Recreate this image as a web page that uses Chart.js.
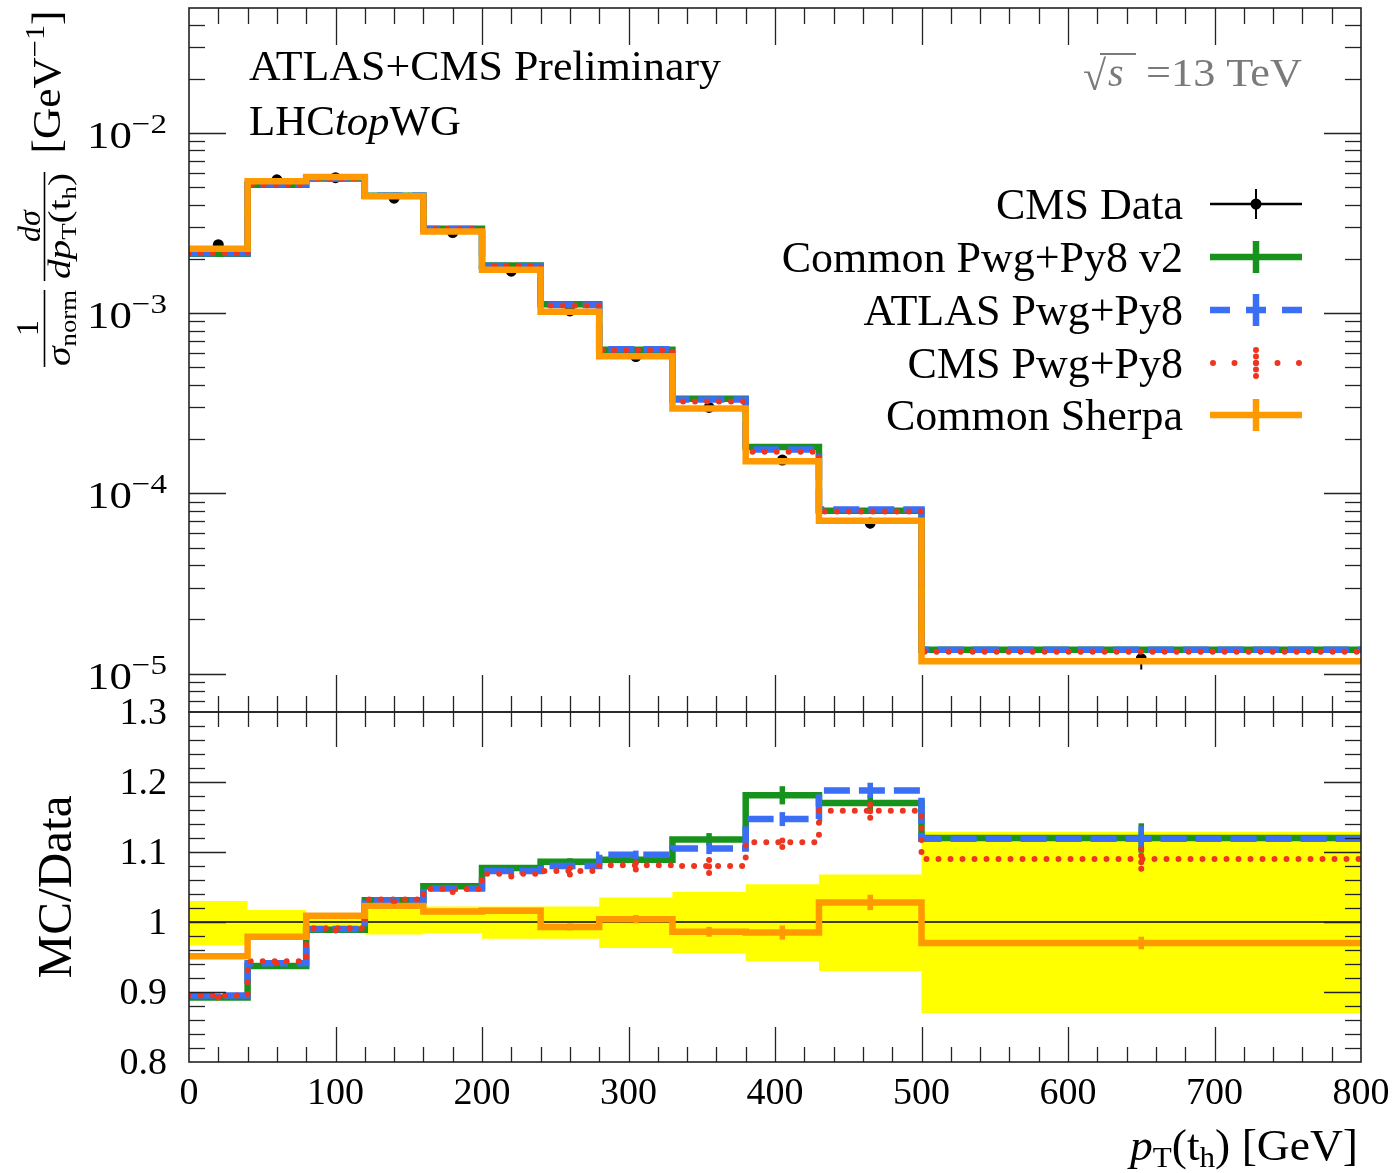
<!DOCTYPE html>
<html><head><meta charset="utf-8">
<script src="https://cdn.jsdelivr.net/npm/chart.js@4.4.1/dist/chart.umd.min.js"></script>
<style>
html,body{margin:0;padding:0;background:#fff;}
#wrap{position:relative;width:1395px;height:1173px;background:#fff;}
canvas{position:absolute;left:0;top:0;}
</style></head><body>
<div id="wrap"><canvas id="cTop" width="1395" height="1173"></canvas><canvas id="cRatio" width="1395" height="1173"></canvas></div>
<script>
// ---------------- data ----------------
const binEdges = [0,40,80,120,160,200,240,280,330,380,430,500,800];
const cmsData      = [2.40e-3,5.50e-3,5.65e-3,4.35e-3,2.80e-3,1.71e-3,1.03e-3,5.75e-4,3.00e-4,1.53e-4,6.85e-5,1.21e-5];
const pwgPy8V2     = [2.14e-3,5.16e-3,5.59e-3,4.49e-3,2.94e-3,1.84e-3,1.12e-3,6.26e-4,3.35e-4,1.81e-4,8.01e-5,1.355e-5];
const atlasPwgPy8  = [2.15e-3,5.18e-3,5.59e-3,4.49e-3,2.93e-3,1.83e-3,1.11e-3,6.30e-4,3.32e-4,1.75e-4,8.14e-5,1.354e-5];
const cmsPwgPy8    = [2.15e-3,5.19e-3,5.60e-3,4.49e-3,2.93e-3,1.83e-3,1.105e-3,6.22e-4,3.24e-4,1.70e-4,7.94e-5,1.32e-5];
const sherpa       = [2.28e-3,5.39e-3,5.70e-3,4.45e-3,2.84e-3,1.74e-3,1.02e-3,5.77e-4,2.96e-4,1.51e-4,7.04e-5,1.17e-5];

const ratioData        = [1,1,1,1,1,1,1,1,1,1,1,1];
const ratioPwgPy8V2    = [0.892,0.937,0.989,1.031,1.051,1.077,1.086,1.089,1.118,1.181,1.170,1.120];
const ratioAtlasPwgPy8 = [0.895,0.941,0.990,1.031,1.048,1.073,1.080,1.096,1.105,1.147,1.188,1.119];
const ratioCmsPwgPy8   = [0.895,0.944,0.991,1.032,1.047,1.069,1.073,1.081,1.080,1.114,1.159,1.090];
const ratioSherpa      = [0.951,0.979,1.009,1.023,1.015,1.016,0.993,1.004,0.986,0.985,1.028,0.970];
const dataBandUp       = [1.030,1.017,1.009,1.017,1.022,1.022,1.022,1.035,1.043,1.054,1.068,1.129];
const dataBandDown     = [0.967,0.983,0.990,0.982,0.984,0.976,0.976,0.963,0.955,0.944,0.930,0.870];
const errPwgPy8V2      = [0.003,0.003,0.003,0.003,0.004,0.004,0.005,0.006,0.009,0.013,0.011,0.021];
const errAtlasPwgPy8   = [0.003,0.003,0.003,0.003,0.004,0.004,0.005,0.006,0.008,0.010,0.011,0.018];
const errCmsPwgPy8     = [0.003,0.003,0.003,0.003,0.004,0.004,0.005,0.006,0.010,0.007,0.010,0.014];
const errSherpa        = [0.003,0.003,0.003,0.003,0.004,0.004,0.005,0.006,0.007,0.010,0.011,0.009];

const xTickValues  = [0,100,200,300,400,500,600,700,800];
const xTickLabels  = ['0','100','200','300','400','500','600','700','800'];
const topTickExps  = [-5,-4,-3,-2];
const ratioTickValues = [0.8,0.9,1.0,1.1,1.2,1.3];
const ratioTickLabels = ['0.8','0.9','1','1.1','1.2','1.3'];
const legendLabels = ['CMS Data','Common Pwg+Py8 v2','ATLAS Pwg+Py8','CMS Pwg+Py8','Common Sherpa'];

// ---------------- styles ----------------
const C_GREEN='#17921c', C_BLUE='#3a6ef5', C_RED='#ee3520', C_ORANGE='#ff9900', C_BAND='#ffff00';
const FONT='"Liberation Serif","DejaVu Serif",serif';
const X_MIN=0, X_MAX=800, Y_TOP_MIN=6.12e-6, Y_TOP_MAX=0.0494, R_MIN=0.8, R_MAX=1.3;

function stepPoints(vals){
  const pts = vals.map((v,i)=>({x:binEdges[i], y:v}));
  pts.push({x:binEdges[binEdges.length-1], y:vals[vals.length-1]});
  return pts;
}
function centerPoints(vals){ return vals.map((v,i)=>({x:(binEdges[i]+binEdges[i+1])/2, y:v})); }
function runFont(r){ return (r.italic?'italic ':'')+r.size+'px '+FONT; }
function measureRuns(ctx,runs){ let w=0; for(const r of runs){ctx.font=runFont(r); w+=ctx.measureText(r.t).width;} return w; }
function drawRuns(ctx,runs,x,y,align,targetW){
  const w=measureRuns(ctx,runs); const sx=targetW?targetW/w:1; const tw=w*sx;
  const x0 = align==='center'? x-tw/2 : align==='right'? x-tw : x;
  ctx.save(); ctx.translate(x0,y); ctx.scale(sx,1); ctx.textAlign='left'; ctx.textBaseline='alphabetic';
  let cx=0; for(const r of runs){ ctx.font=runFont(r); ctx.fillText(r.t,cx,r.dy||0); cx+=ctx.measureText(r.t).width; }
  ctx.restore();
}
function rotRuns(ctx,runs,bx,cy,targetW){
  ctx.save(); ctx.translate(bx,cy); ctx.rotate(-Math.PI/2); drawRuns(ctx,runs,0,0,'center',targetW); ctx.restore();
}
function seg(ctx,x1,y1,x2,y2){ ctx.beginPath(); ctx.moveTo(x1,y1); ctx.lineTo(x2,y2); ctx.stroke(); }

function drawXTicks(ctx,a,xs,major,minor){
  ctx.lineWidth=1.3;
  for(let v=X_MIN+20; v<X_MAX; v+=20){
    const L = (v%100===0)?major:minor;
    const px=Math.round(xs.getPixelForValue(v))+0.5;
    seg(ctx,px,a.top,px,a.top+L); seg(ctx,px,a.bottom,px,a.bottom-L);
  }
}
function drawYTick(ctx,a,py,L){
  py=Math.round(py)+0.5;
  seg(ctx,a.left,py,a.left+L,py); seg(ctx,a.right,py,a.right-L,py);
}
function drawFrame(ctx,a){
  ctx.lineWidth=1.6; ctx.strokeRect(a.left,a.top,a.right-a.left,a.bottom-a.top);
}

// ---------------- top panel ----------------
const topPlugin = {
  id:'topDecor',
  beforeDatasetsDraw(chart){
    const {ctx}=chart, xs=chart.scales.x, ys=chart.scales.y;
    ctx.save(); ctx.strokeStyle='#000'; ctx.lineWidth=2;
    cmsData.forEach((v,i)=>{
      const px=xs.getPixelForValue((binEdges[i]+binEdges[i+1])/2);
      seg(ctx,px,ys.getPixelForValue(v*dataBandDown[i]),px,ys.getPixelForValue(v*dataBandUp[i]));
    });
    ctx.restore();
  },
  afterDraw(chart){
    const {ctx,chartArea:a}=chart, xs=chart.scales.x, ys=chart.scales.y;
    ctx.save(); ctx.strokeStyle='#222'; ctx.fillStyle='#000';
    drawXTicks(ctx,a,xs,37,16);
    ctx.lineWidth=1.3;
    for(let e=-6;e<=-1;e++) for(let k=1;k<=9;k++){
      const v=k*Math.pow(10,e); if(v<Y_TOP_MIN||v>Y_TOP_MAX) continue;
      drawYTick(ctx,a,ys.getPixelForValue(v),k===1?37:16);
    }
    drawFrame(ctx,a);
    // tick labels
    topTickExps.forEach(e=>{
      const py=ys.getPixelForValue(Math.pow(10,e));
      drawRuns(ctx,[{t:'10',size:38},{t:'\u2212'+Math.abs(e),size:28,dy:-15}],167,py+15,'right',80);
    });
    // y title
    rotRuns(ctx,[{t:'1',size:32}],38,328);
    rotRuns(ctx,[{t:'\u03c3',size:34,italic:true},{t:'norm',size:23,dy:6}],70,328,76);
    rotRuns(ctx,[{t:'d',size:32,italic:true},{t:'\u03c3',size:32,italic:true}],40,226);
    rotRuns(ctx,[{t:'dp',size:32,italic:true},{t:'T',size:22,dy:6},{t:'(t',size:32},{t:'h',size:22,dy:6},{t:')',size:32}],70,226,106);
    rotRuns(ctx,[{t:'[GeV',size:40},{t:'\u22121',size:28,dy:-16},{t:']',size:40}],60,82,143);
    ctx.strokeStyle='#000'; ctx.lineWidth=1.6;
    seg(ctx,44.5,290,44.5,367); seg(ctx,44.5,172,44.5,281);
    // titles
    drawRuns(ctx,[{t:'ATLAS+CMS Preliminary',size:43}],249,80,'left',472);
    drawRuns(ctx,[{t:'LHC',size:43},{t:'top',size:43,italic:true},{t:'WG',size:43}],249,135,'left',212);
    ctx.fillStyle='#7a7a7a'; ctx.strokeStyle='#7a7a7a';
    drawRuns(ctx,[{t:'\u221a',size:42}],1083,90,'left');
    drawRuns(ctx,[{t:'s',size:40,italic:true}],1108,86,'left');
    ctx.lineWidth=2; seg(ctx,1100,54,1136,54);
    drawRuns(ctx,[{t:'=13 TeV',size:40}],1146,86,'left',156);
    // legend
    ctx.fillStyle='#000';
    const rowY=[204,257,310,363,415], x1=1210, x2=1302, xc=1256;
    legendLabels.forEach((lab,i)=>{ drawRuns(ctx,[{t:lab,size:44}],1183,rowY[i]+15,'right'); });
    // data
    ctx.strokeStyle='#000'; ctx.lineWidth=2.5; seg(ctx,x1,rowY[0],x2,rowY[0]);
    ctx.lineWidth=2; seg(ctx,xc,rowY[0]-15,xc,rowY[0]+15);
    ctx.beginPath(); ctx.arc(xc,rowY[0],5.5,0,Math.PI*2); ctx.fill();
    // green
    ctx.strokeStyle=C_GREEN; ctx.lineWidth=6.5; seg(ctx,x1,rowY[1],x2,rowY[1]); seg(ctx,xc,rowY[1]-16,xc,rowY[1]+16);
    // blue
    ctx.strokeStyle=C_BLUE; ctx.setLineDash([20,16]); seg(ctx,x1,rowY[2],x2,rowY[2]); ctx.setLineDash([]); seg(ctx,xc,rowY[2]-16,xc,rowY[2]+16);
    // red
    ctx.strokeStyle=C_RED; ctx.lineCap='round'; ctx.lineWidth=6; ctx.setLineDash([0,21.5]); seg(ctx,xc-43,rowY[3],x2+1,rowY[3]);
    ctx.setLineDash([0,6.5]); seg(ctx,xc,rowY[3]-13,xc,rowY[3]+14); ctx.setLineDash([]); ctx.lineCap='butt';
    // orange
    ctx.strokeStyle=C_ORANGE; ctx.lineWidth=6.5; seg(ctx,x1,rowY[4],x2,rowY[4]); seg(ctx,xc,rowY[4]-16,xc,rowY[4]+16);
    ctx.restore();
  }
};

const lineDs = (label,vals,color,order,extra)=>Object.assign({
  label, data:stepPoints(vals), stepped:true, borderColor:color, backgroundColor:color,
  borderWidth:6.5, pointRadius:0, fill:false, order, borderJoinStyle:'miter'
}, extra||{});

new Chart(document.getElementById('cTop'),{
  type:'line',
  data:{datasets:[
    {label:'CMS Data', data:centerPoints(cmsData), showLine:false, pointRadius:5.5, pointBackgroundColor:'#000', pointBorderWidth:0, borderColor:'#000', order:5},
    lineDs('Common Pwg+Py8 v2',pwgPy8V2,C_GREEN,4),
    lineDs('ATLAS Pwg+Py8',atlasPwgPy8,C_BLUE,3,{borderDash:[26,9]}),
    lineDs('CMS Pwg+Py8',cmsPwgPy8,C_RED,2,{borderDash:[0,12],borderCapStyle:'round',borderWidth:6}),
    lineDs('Common Sherpa',sherpa,C_ORANGE,1)
  ]},
  options:{
    responsive:false, animation:false, devicePixelRatio:1,
    layout:{padding:{left:189,right:34,top:8,bottom:1173-712}},
    scales:{
      x:{type:'linear',min:X_MIN,max:X_MAX,display:false},
      y:{type:'logarithmic',min:Y_TOP_MIN,max:Y_TOP_MAX,display:false}
    },
    plugins:{legend:{display:false},tooltip:{enabled:false},title:{display:false}},
    events:[]
  },
  plugins:[topPlugin]
});

// ---------------- ratio panel ----------------
const ratioSeries=[
  {vals:ratioPwgPy8V2,err:errPwgPy8V2,color:C_GREEN,dash:[]},
  {vals:ratioAtlasPwgPy8,err:errAtlasPwgPy8,color:C_BLUE,dash:[]},
  {vals:ratioCmsPwgPy8,err:errCmsPwgPy8,color:C_RED,dash:[0,6.5]},
  {vals:ratioSherpa,err:errSherpa,color:C_ORANGE,dash:[]}
];
const ratioPlugin={
  id:'ratioDecor',
  afterDatasetsDraw(chart){
    const {ctx,chartArea:a}=chart, xs=chart.scales.x, ys=chart.scales.y;
    ctx.save(); ctx.beginPath(); ctx.rect(a.left,a.top,a.right-a.left,a.bottom-a.top); ctx.clip();
    ratioSeries.forEach(s=>{
      ctx.strokeStyle=s.color; ctx.lineWidth=s.dash.length?6:5.5; ctx.setLineDash(s.dash); ctx.lineCap=s.dash.length?'round':'butt';
      s.vals.forEach((v,i)=>{
        const px=xs.getPixelForValue((binEdges[i]+binEdges[i+1])/2);
        seg(ctx,px,ys.getPixelForValue(v-s.err[i]),px,ys.getPixelForValue(v+s.err[i]));
      });
    });
    ctx.restore();
  },
  afterDraw(chart){
    const {ctx,chartArea:a}=chart, xs=chart.scales.x, ys=chart.scales.y;
    ctx.save(); ctx.strokeStyle='#222'; ctx.fillStyle='#000';
    drawXTicks(ctx,a,xs,35,15);
    ctx.lineWidth=1.3;
    for(let k=0;k<=25;k++){
      const v=R_MIN+k*0.02; if(k===0||k===25) continue;
      drawYTick(ctx,a,ys.getPixelForValue(v),(k%5===0)?37:16);
    }
    drawFrame(ctx,a);
    ratioTickValues.forEach((v,i)=>{
      drawRuns(ctx,[{t:ratioTickLabels[i],size:38}],167,ys.getPixelForValue(v)+12,'right');
    });
    xTickValues.forEach((v,i)=>{
      drawRuns(ctx,[{t:xTickLabels[i],size:38}],xs.getPixelForValue(v),1104,'center');
    });
    drawRuns(ctx,[{t:'p',size:44,italic:true},{t:'T',size:30,dy:7},{t:'(t',size:44},{t:'h',size:30,dy:7},{t:') [GeV]',size:44}],1358,1160,'right',228);
    rotRuns(ctx,[{t:'MC/Data',size:48}],71,887,183);
    ctx.restore();
  }
};

new Chart(document.getElementById('cRatio'),{
  type:'line',
  data:{datasets:[
    {label:'band low', data:stepPoints(dataBandDown), stepped:true, borderWidth:0, borderColor:'rgba(0,0,0,0)', pointRadius:0, fill:false, order:9},
    {label:'band high', data:stepPoints(dataBandUp), stepped:true, borderWidth:0, borderColor:'rgba(0,0,0,0)', backgroundColor:C_BAND, pointRadius:0, fill:'-1', order:8},
    {label:'CMS Data', data:stepPoints(ratioData), stepped:true, borderWidth:1.3, borderColor:'#000', pointRadius:0, fill:false, order:7},
    lineDs('Common Pwg+Py8 v2',ratioPwgPy8V2,C_GREEN,4),
    lineDs('ATLAS Pwg+Py8',ratioAtlasPwgPy8,C_BLUE,3,{borderDash:[26,9]}),
    lineDs('CMS Pwg+Py8',ratioCmsPwgPy8,C_RED,2,{borderDash:[0,12],borderCapStyle:'round',borderWidth:6}),
    lineDs('Common Sherpa',ratioSherpa,C_ORANGE,1)
  ]},
  options:{
    responsive:false, animation:false, devicePixelRatio:1,
    layout:{padding:{left:189,right:34,top:712,bottom:1173-1062}},
    scales:{
      x:{type:'linear',min:X_MIN,max:X_MAX,display:false},
      y:{type:'linear',min:R_MIN,max:R_MAX,display:false}
    },
    plugins:{legend:{display:false},tooltip:{enabled:false},title:{display:false},filler:{propagate:false}},
    events:[]
  },
  plugins:[ratioPlugin]
});
</script>
</body></html>
